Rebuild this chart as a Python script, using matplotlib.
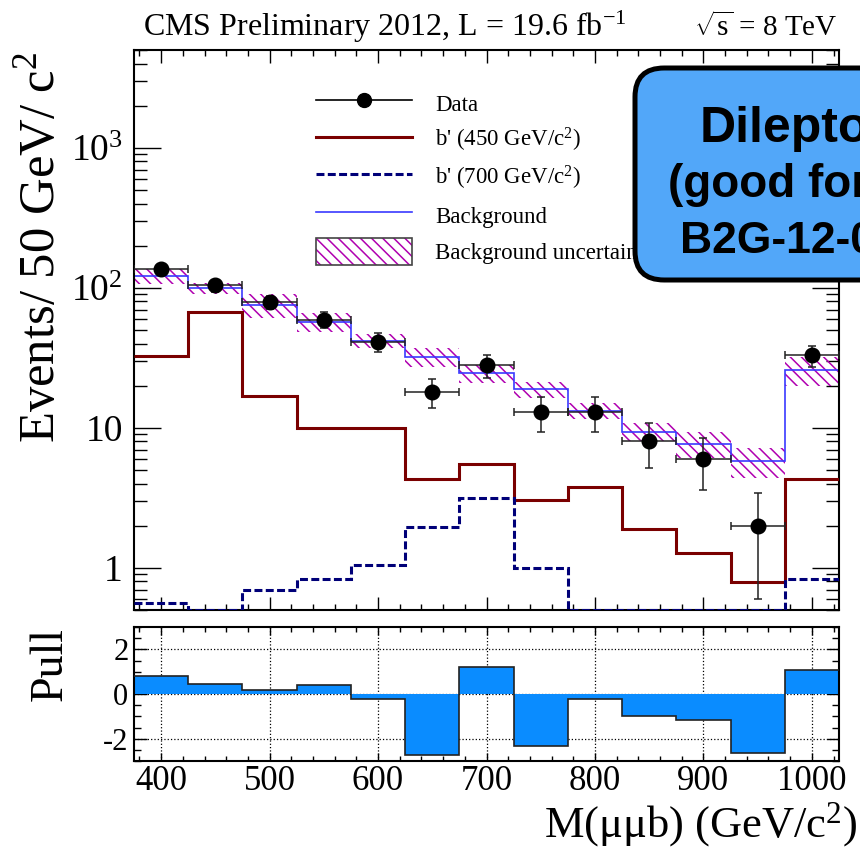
import numpy as np
import matplotlib
matplotlib.use('Agg')
import matplotlib.pyplot as plt
from matplotlib.patches import Patch, FancyBboxPatch
from matplotlib.lines import Line2D
from matplotlib.legend_handler import HandlerTuple
from matplotlib.ticker import FixedLocator, MultipleLocator, FuncFormatter, LogLocator, NullFormatter

# ---------------- data ----------------
bin_edges = [375, 425, 475, 525, 575, 625, 675, 725, 775, 825, 875, 925, 975, 1025]
mass = [400, 450, 500, 550, 600, 650, 700, 750, 800, 850, 900, 950, 1000]
data = [136, 104, 79, 59, 41, 18, 28, 13, 13, 8, 6, 2, 33]
data_err = [11.7, 10.2, 8.9, 7.7, 6.4, 4.2, 5.3, 3.6, 3.6, 2.8, 2.4, 1.4, 5.7]
bkg = [121, 99, 76, 57, 42, 32, 24.5, 18.8, 13.3, 9.4, 7.7, 5.8, 26]
bkg_err = [15, 9, 15, 9, 5, 5, 3.5, 2.5, 1.8, 1.4, 1.6, 1.4, 6]
bprime450 = [32.4, 67, 17, 9.9, 9.9, 4.3, 5.55, 3.07, 3.8, 1.9, 1.28, 0.79, 4.34]
bprime700 = [0.56, 0.5, 0.70, 0.83, 1.05, 1.97, 3.17, 1.0, 0.5, 0.5, 0.5, 0.5, 0.83]
pull = [0.82, 0.45, 0.19, 0.40, -0.24, -2.74, 1.20, -2.34, -0.24, -0.97, -1.17, -2.62, 1.09]

legend_labels = ["Data", "b' (450 GeV/c$^{2}$)", "b' (700 GeV/c$^{2}$)",
                 "Background", "Background uncertainty"]
ytick_labels = {1: '1', 10: '10', 100: '$10^{2}$', 1000: '$10^{3}$'}

# ---------------- style ----------------
plt.rcParams['font.family'] = ['Liberation Serif', 'DejaVu Serif']
plt.rcParams['mathtext.fontset'] = 'custom'
plt.rcParams['mathtext.rm'] = 'Liberation Serif'
plt.rcParams['mathtext.it'] = 'Liberation Serif:italic'
plt.rcParams['mathtext.bf'] = 'Liberation Serif:bold'
plt.rcParams['hatch.linewidth'] = 1.1
plt.rcParams['axes.unicode_minus'] = False

W, H = 860, 849
fig = plt.figure(figsize=(W / 100, H / 100), dpi=100)

def fx(px):
    return px / W

def fy(py):
    return 1 - py / H

ax = fig.add_axes([fx(134), fy(610), (839 - 134) / W, (610 - 50) / H])
ax2 = fig.add_axes([fx(134), fy(761), (839 - 134) / W, (761 - 627) / H])

edges = np.array(bin_edges, dtype=float)
bkg_a = np.array(bkg)
err_a = np.array(bkg_err)

hatch_col = '#b000b0'
hatch_pat = '\\\\\\'
ax.stairs(bkg_a + err_a, edges, baseline=bkg_a - err_a, fill=True,
          facecolor='none', edgecolor=hatch_col, hatch=hatch_pat, linewidth=0, zorder=2)
ax.stairs(bkg, edges, baseline=None, color='#3a3aff', linewidth=1.2, zorder=2.5)
ax.stairs(bprime450, edges, baseline=None, color='#7a0000', linewidth=2.2, zorder=3)
ax.stairs(bprime700, edges, baseline=None, color='#000078', linewidth=2.2,
          linestyle=(0, (2.6, 1.1)), zorder=3)
ax.errorbar(mass, data, xerr=25, yerr=data_err, fmt='o', color='black',
            ecolor='#222222', markersize=10.5, elinewidth=1.1, capsize=2.6,
            capthick=1.1, zorder=4)

ax.set_yscale('log')
ax.set_xlim(375, 1025)
ax.set_ylim(0.5, 5000)
ax.yaxis.set_major_locator(FixedLocator([1, 10, 100, 1000]))
ax.yaxis.set_major_formatter(FuncFormatter(lambda v, p: ytick_labels.get(int(round(v)), '')))
ax.yaxis.set_minor_locator(LogLocator(base=10, subs=np.arange(2, 10)))
ax.yaxis.set_minor_formatter(NullFormatter())
ax.xaxis.set_major_locator(MultipleLocator(100))
ax.xaxis.set_minor_locator(MultipleLocator(20))
ax.tick_params(axis='both', which='both', direction='in', top=True, right=True,
               labelbottom=False, width=1.0)
ax.tick_params(axis='y', which='major', length=19.5, labelsize=27, pad=8)
ax.tick_params(axis='y', which='minor', length=9.5)
ax.tick_params(axis='x', which='major', length=9.5)
ax.tick_params(axis='x', which='minor', length=4.5)
for s in ax.spines.values():
    s.set_linewidth(1.5)

# legend
h_data = Line2D([], [], color='black', marker='o', markersize=10, linewidth=1.2)
h_450 = Line2D([], [], color='#7a0000', linewidth=2.2)
h_700 = Line2D([], [], color='#000078', linewidth=2.2, linestyle=(0, (2.6, 1.1)))
h_bkg = Line2D([], [], color='#3a3aff', linewidth=1.2)
h_unc = (Patch(facecolor='white', edgecolor=hatch_col, hatch=hatch_pat, linewidth=0),
         Patch(facecolor='none', edgecolor='#444444', linewidth=1.2))
leg = ax.legend([h_data, h_450, h_700, h_bkg, h_unc], legend_labels,
                handler_map={tuple: HandlerTuple(ndivide=1, pad=0)},
                loc='upper left', bbox_to_anchor=((316 - 134) / 705, (610 - 90) / 560),
                frameon=False, fontsize=16.5, handlelength=4.2, handleheight=1.4,
                handletextpad=1.0, labelspacing=0.42, borderpad=0, borderaxespad=0,
                numpoints=1)

# pull panel
ax2.grid(True, which='major', linestyle=':', color='black', linewidth=0.9)
ax2.set_axisbelow(True)
ax2.stairs(pull, edges, baseline=0, fill=True, color='#0a8cff', zorder=2)
ax2.stairs(pull, edges, baseline=None, color='#222222', linewidth=1.2, zorder=3)
ax2.set_xlim(375, 1025)
ax2.set_ylim(-3, 3)
ax2.xaxis.set_major_locator(MultipleLocator(100))
ax2.xaxis.set_minor_locator(MultipleLocator(20))
ax2.yaxis.set_major_locator(FixedLocator([-2, 0, 2]))
ax2.yaxis.set_minor_locator(MultipleLocator(0.5))
ax2.tick_params(axis='both', which='both', direction='in', top=True, right=True, width=1.0)
ax2.tick_params(axis='x', which='major', length=6, labelsize=25, pad=3)
ax2.tick_params(axis='x', which='minor', length=3.5)
ax2.tick_params(axis='y', which='major', length=9, labelsize=22, pad=4)
ax2.tick_params(axis='y', which='minor', length=5)
for s in ax2.spines.values():
    s.set_linewidth(1.5)

# axis titles
fig.text(fx(42), fy(51), 'Events/ 50 GeV/ c$^{2}$', rotation=90, ha='center', va='top',
         fontsize=36.5)
fig.text(fx(50), fy(627), 'Pull', rotation=90, ha='center', va='top', fontsize=33)
fig.text(fx(857), fy(837), 'M(\u03bc\u03bcb) (GeV/c$^{2}$)', ha='right', va='baseline',
         fontsize=32)

# header
fig.text(fx(143), fy(36), 'CMS Preliminary 2012, L = 19.6 fb$^{-1}$', ha='left',
         va='baseline', fontsize=23)
fig.text(fx(838), fy(36), '$\\sqrt{\\mathrm{s}}$ = 8 TeV', ha='right', va='baseline',
         fontsize=21)

# overlay box
box = FancyBboxPatch((fx(635), fy(280)), fx(1000) - fx(635), fy(68) - fy(280),
                     boxstyle='round,pad=0,rounding_size=0.034',
                     transform=fig.transFigure, facecolor='#52a7f9',
                     edgecolor='black', linewidth=3.6, zorder=10)
fig.add_artist(box)
fig.text(fx(700), fy(142), 'Dilepton', ha='left', va='baseline', fontsize=36,
         family='Liberation Sans', weight='bold', zorder=11)
fig.text(fx(668), fy(197), '(good for', ha='left', va='baseline', fontsize=33,
         family='Liberation Sans', weight='bold', zorder=11)
fig.text(fx(680), fy(253), 'B2G-12-0', ha='left', va='baseline', fontsize=32,
         family='Liberation Sans', weight='bold', zorder=11)

fig.savefig('out.png', dpi=100)
